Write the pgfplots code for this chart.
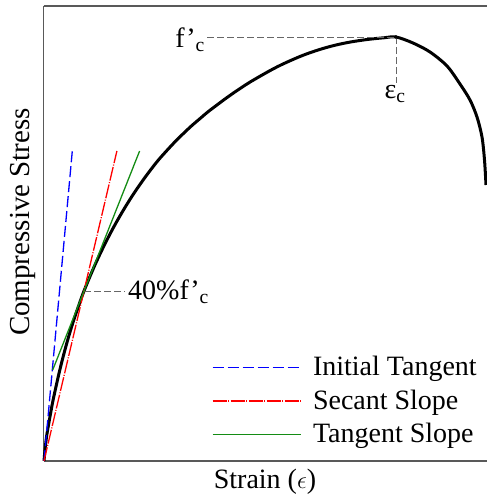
\documentclass[border=0pt]{standalone}
\usepackage{fontspec}
\setmainfont{Liberation Serif}
\usepackage{pgfplots}
\pgfplotsset{compat=1.18}
\definecolor{tgreen}{RGB}{20,140,20}
\begin{document}
\fontsize{28bp}{33bp}\selectfont
\begin{tikzpicture}
\path[use as bounding box] (-43.5bp,-37bp) rectangle (443.5bp,461bp);
\begin{axis}[
  at={(0,0)}, anchor=south west,
  width=444bp, height=455bp, scale only axis,
  xmin=-0.5, xmax=443.5, ymin=0, ymax=455,
  axis x line=box, axis y line=left,
  axis line style={-, line width=1.3bp, draw=black!65},
  xtick=\empty, ytick=\empty,
  clip=false,
  legend cell align=left,
  legend image code/.code={\draw[#1] (0bp,3.8bp)--(88bp,3.8bp);},
  legend style={at={(axis cs:168,106.3)}, anchor=north west, draw=none, fill=none,
    inner sep=0pt, outer sep=0pt, row sep=0pt, column sep=11.7bp,
    nodes={inner sep=0pt, text height=21bp, text depth=12.5bp}},
]
% stress-strain curve
\addplot[black, line width=3bp, smooth, tension=0.5, forget plot] coordinates {
(0,0) (1,11) (2.5,24) (4.5,36) (7,50) (9.3,62) (15,87.6) (20,107.6) (25,125.6)
(30,141.7) (35,156.2) (40,170) (50,193.9) (60,215.2) (70,234.5) (80,251.9)
(90,267.8) (100,282.2) (106,290.3) (114,300.5) (122.7,310.3) (131,319.2)
(139.3,327.4) (147.6,335.2) (156,342.4) (164,349.2) (172.7,355.8) (181,362)
(189.3,367.9) (197.6,373.5) (206,378.9) (217.5,385.6) (229,392) (237.5,396.3)
(246,400.2) (254.3,403.8) (262.7,407.1) (271,410) (279.3,412.6) (287.6,414.9)
(296,416.9) (304.3,418.6) (312.7,420) (321,421.2) (329.3,422.2) (340,423.2)
(352,424) (369,418) (386,409) (403,395) (416,377) (426,361) (433,344)
(438,324) (440.5,301) (442,276)};
% guide lines
\addplot[black!60, line width=0.9bp, dash pattern=on 7bp off 3bp, forget plot] coordinates {(163,424) (352,424)};
\addplot[black!60, line width=0.9bp, dash pattern=on 7bp off 3bp, forget plot] coordinates {(352,424) (352,378)};
\addplot[black!60, line width=0.9bp, dash pattern=on 7bp off 3bp, forget plot] coordinates {(40,170) (81,170)};
\addplot[black, only marks, mark=*, mark size=1.6bp, forget plot] coordinates {(352,424)};
% slopes
\addplot[blue, line width=1.3bp, dash pattern=on 11bp off 4bp] coordinates {(0,0) (28.3,310)};
\addlegendentry{Initial Tangent}
\addplot[red, line width=1.3bp, dash pattern=on 14bp off 1.5bp on 1bp off 1.5bp] coordinates {(0,0) (72.9,310)};
\addlegendentry{Secant Slope}
\addplot[tgreen, line width=1.3bp] coordinates {(8.7,91) (95.6,310)};
\addlegendentry{Tangent Slope}
% labels
\node[anchor=east, inner sep=0pt] at (axis cs:161,421) {f'\textsubscript{c}};
\node[anchor=north, inner sep=0pt] at (axis cs:351,376) {ε\textsubscript{c}};
\node[anchor=west, inner sep=0pt] at (axis cs:84,169.5) {40\%f'\textsubscript{c}};
\node[rotate=90, font=\fontsize{29bp}{33bp}\selectfont] at (axis cs:-21.5,239) {Compressive Stress};
\node at (axis cs:221,-21) {Strain ($\epsilon$)};
\end{axis}
\end{tikzpicture}
\end{document}
